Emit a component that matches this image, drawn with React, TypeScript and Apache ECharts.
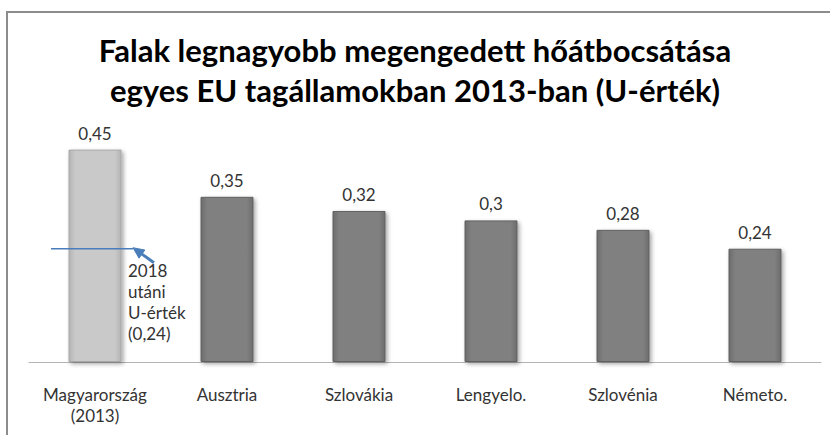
import React, { useEffect, useRef } from "react";
import * as echarts from "echarts";

const titleLines = ["Falak legnagyobb megengedett hőátbocsátása", "egyes EU tagállamokban 2013-ban (U-érték)"];
const categories = ["Magyarország\n(2013)", "Ausztria", "Szlovákia", "Lengyelo.", "Szlovénia", "Németo."];
const values = [0.45, 0.35, 0.32, 0.3, 0.28, 0.24];
const targetValue = 0.24;
const annotationLines = ["2018", "utáni", "U-érték", "(0,24)"];

const FONT = "Lato, 'Open Sans', sans-serif";

function barColor(light: boolean) {
  const edge = light ? "#b4b4b4" : "#6c6c6c";
  const mid = light ? "#c9c9c9" : "#808080";
  return new echarts.graphic.LinearGradient(0, 0, 1, 0, [
    { offset: 0, color: edge },
    { offset: 0.12, color: mid },
    { offset: 0.88, color: mid },
    { offset: 1, color: edge },
  ]);
}

export default function App() {
  const ref = useRef<HTMLDivElement>(null);
  useEffect(() => {
    if (!ref.current) return;
    const chart = echarts.init(ref.current, null, { renderer: "svg" });
    const option: any = {
      animation: false,
      backgroundColor: "#ffffff",
      grid: { left: 29, right: 9, top: 126, bottom: 73, containLabel: false },
      xAxis: {
        type: "category",
        data: categories,
        axisTick: { show: false },
        axisLine: { lineStyle: { color: "#b3b3b3", width: 1 } },
        axisLabel: {
          color: "#333333",
          fontFamily: FONT,
          fontSize: 17,
          lineHeight: 21,
          margin: 22,
          interval: 0,
        },
      },
      yAxis: {
        type: "value",
        min: 0,
        max: 0.5,
        show: false,
        splitLine: { show: false },
      },
      series: [
        {
          type: "bar",
          barWidth: 53,
          data: values.map((v, i) => ({
            value: v,
            itemStyle: {
              color: barColor(i === 0),
              borderColor: i === 0 ? "#a8a8a8" : "#606060",
              borderWidth: 1,
              shadowColor: "rgba(0,0,0,0.35)",
              shadowBlur: 4,
              shadowOffsetX: 2,
              shadowOffsetY: 2,
            },
          })),
          label: {
            show: true,
            position: "top",
            distance: 8,
            color: "#333333",
            fontFamily: FONT,
            fontSize: 17,
            formatter: (p: any) => String(p.value).replace(".", ","),
          },
        },
      ],
    };
    chart.setOption(option);

    const [cx, ty] = chart.convertToPixel({ xAxisIndex: 0, yAxisIndex: 0 } as any, [0, targetValue]) as number[];
    const tipX = cx + 38;
    const tipY = ty - 1;
    const tailX = tipX + 21;
    const tailY = tipY + 15;
    const ang = Math.atan2(tailY - tipY, tailX - tipX);
    const hl = 11;
    const hw = 5;
    const bx = tipX + Math.cos(ang) * hl;
    const by = tipY + Math.sin(ang) * hl;
    const px = -Math.sin(ang) * hw;
    const py = Math.cos(ang) * hw;
    const blue = "#4a7ebb";

    chart.setOption({
      graphic: [
        {
          type: "polyline",
          shape: { points: [[7, 436], [7, 12], [830, 12]] },
          style: { stroke: "#8c8c8c", lineWidth: 2, fill: null },
          z: 10,
        },
        ...titleLines.map((t, i) => ({
          type: "text",
          x: 415,
          y: 50 + i * 40,
          style: {
            text: t,
            fill: "#000000",
            font: `bold 31px ${FONT}`,
            align: "center",
            verticalAlign: "middle",
          },
          z: 10,
        })),
        {
          type: "line",
          shape: { x1: cx - 44, y1: ty, x2: tipX, y2: ty },
          style: { stroke: blue, lineWidth: 1.5 },
          z: 20,
        },
        {
          type: "line",
          shape: { x1: bx, y1: by, x2: tailX, y2: tailY },
          style: { stroke: blue, lineWidth: 3 },
          z: 20,
        },
        {
          type: "polygon",
          shape: { points: [[tipX, tipY], [bx + px, by + py], [bx - px, by - py]] },
          style: { fill: blue, stroke: blue, lineWidth: 1 },
          z: 20,
        },
        ...annotationLines.map((t, i) => ({
          type: "text",
          x: cx + 33,
          y: ty + 22 + i * 21,
          style: {
            text: t,
            fill: "#333333",
            font: `17px ${FONT}`,
            align: "left",
            verticalAlign: "middle",
          },
          z: 20,
        })),
      ],
    });

    return () => chart.dispose();
  }, []);
  return <div ref={ref} style={{ width: 830, height: 435, position: "absolute", left: 0, top: 0 }} />;
}
